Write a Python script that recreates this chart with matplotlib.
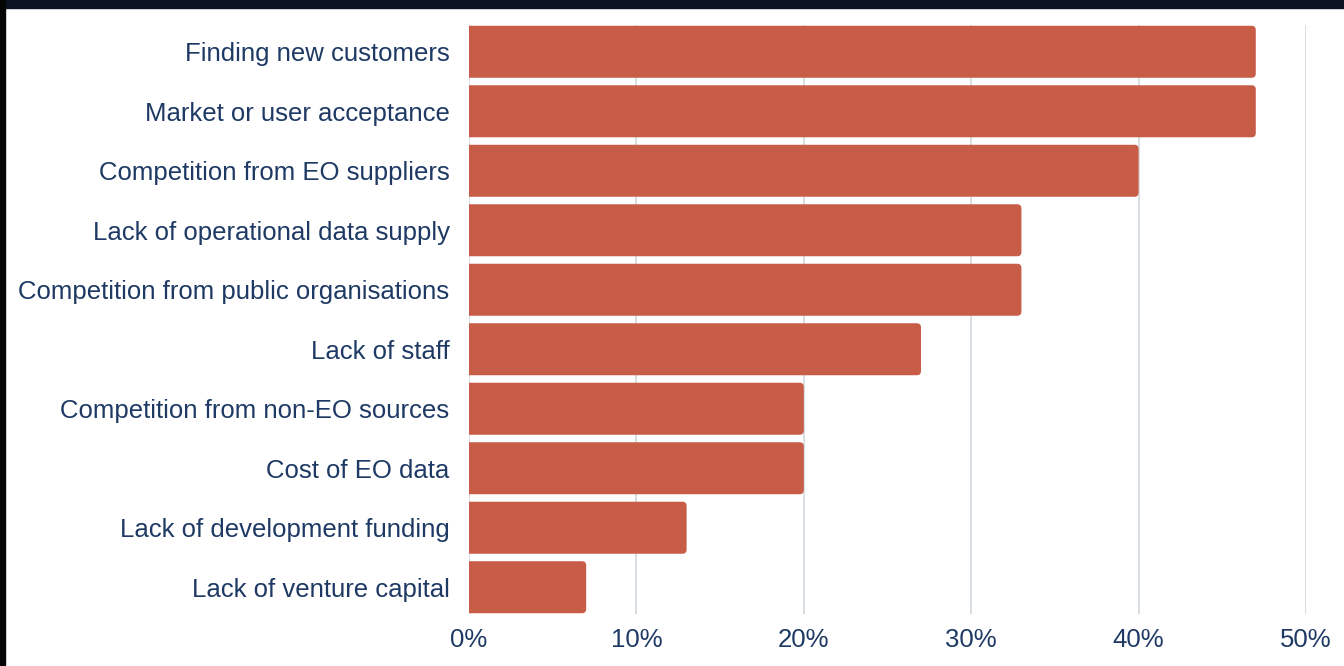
import matplotlib
matplotlib.use("Agg")
import matplotlib.pyplot as plt
from matplotlib.patches import Rectangle, FancyBboxPatch

categories = [
    "Finding new customers",
    "Market or user acceptance",
    "Competition from EO suppliers",
    "Lack of operational data supply",
    "Competition from public organisations",
    "Lack of staff",
    "Competition from non-EO sources",
    "Cost of EO data",
    "Lack of development funding",
    "Lack of venture capital",
]
values = [47, 47, 40, 33, 33, 27, 20, 20, 13, 7]
xticks = [0, 10, 20, 30, 40, 50]
xtick_labels = ["0%", "10%", "20%", "30%", "40%", "50%"]

plt.rcParams['font.family'] = ['Liberation Sans', 'DejaVu Sans']
text_color = "#1e3a64"
bar_color = "#c75c47"

fig = plt.figure(figsize=(13.44, 6.66), dpi=100)
fig.patch.set_facecolor("white")
ax = fig.add_axes([469/1344, (666-614)/666, (1306-469)/1344, (614-25)/666])

y = list(range(len(categories)))
bars = ax.barh(y, values, height=0.874, color=bar_color, zorder=3)
ax.set_xlim(0, 50)
ax.set_ylim(9.45, -0.45)

# rounded right corners: replace each bar with a rounded box whose left part is clipped at x=0
r = 0.25            # rounding in x data units (~4 px)
aspect = (837 / 50) / (589 / 9.9)   # px per x-unit / px per y-unit
for b in bars:
    b.set_visible(False)
    fb = FancyBboxPatch((b.get_x() - 1.0, b.get_y()), b.get_width() + 1.0, b.get_height(),
                        boxstyle=f"round,pad=0,rounding_size={r}",
                        mutation_aspect=aspect,
                        facecolor=bar_color, edgecolor="none", zorder=3)
    ax.add_patch(fb)

ax.set_yticks(y)
ax.set_yticklabels(categories, fontsize=18.5, color=text_color)
ax.set_xticks(xticks)
ax.set_xticklabels(xtick_labels, fontsize=18.5, color=text_color)
ax.tick_params(axis='both', length=0)
ax.tick_params(axis='y', pad=14)
ax.tick_params(axis='x', pad=10)
for s in ax.spines.values():
    s.set_visible(False)
ax.grid(axis='x', color="#d5dbe1", linewidth=1.3, zorder=0)
ax.set_axisbelow(True)

# dark frame edges
fig.patches.append(Rectangle((0, 1 - 8/666), 1, 8/666, transform=fig.transFigure,
                             color="#0d1322", zorder=10))
fig.patches.append(Rectangle((0, 0), 5/1344, 1, transform=fig.transFigure,
                             color="#050505", zorder=10))

fig.savefig("out.png", dpi=100)
